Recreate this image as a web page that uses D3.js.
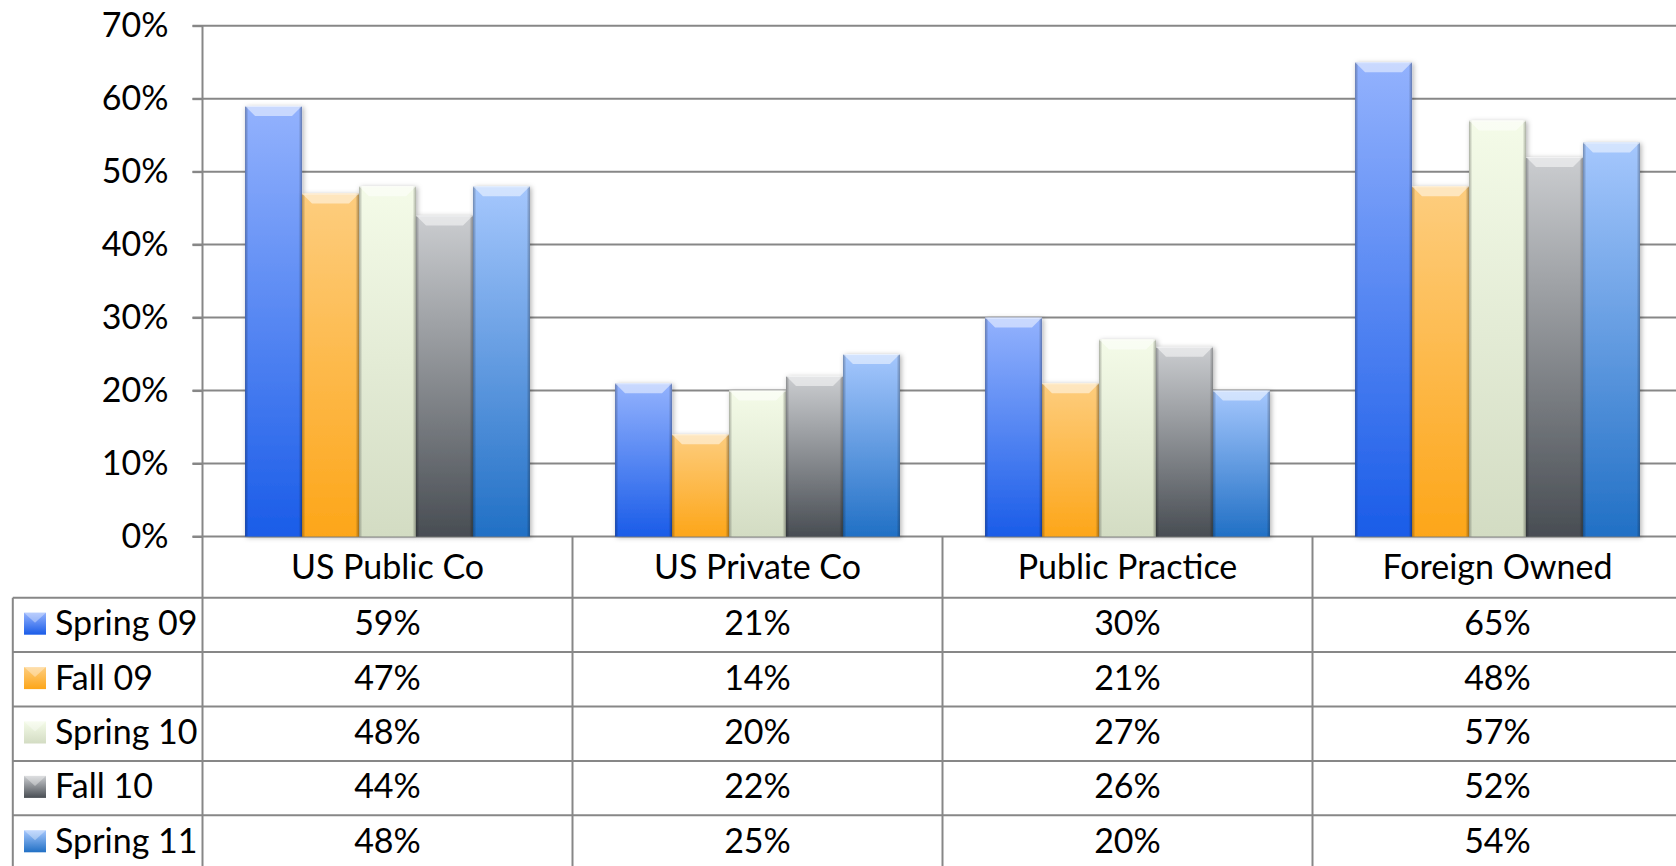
<!DOCTYPE html>
<html>
<head>
<meta charset="utf-8">
<script src="https://cdn.jsdelivr.net/npm/d3@7"></script>
<style>
  html, body { margin: 0; padding: 0; background: #fff; }
  svg { display: block; }
  text { font-family: Lato, "Open Sans", sans-serif; fill: #000; }
</style>
</head>
<body>
<div id="chart"></div>
<script>
// Chart data
const categories = ['US Public Co', 'US Private Co', 'Public Practice', 'Foreign Owned'];
const seriesNames = ['Spring 09', 'Fall 09', 'Spring 10', 'Fall 10', 'Spring 11'];
const spring09 = [0.59, 0.21, 0.30, 0.65];
const fall09 = [0.47, 0.14, 0.21, 0.48];
const spring10 = [0.48, 0.20, 0.27, 0.57];
const fall10 = [0.44, 0.22, 0.26, 0.52];
const spring11 = [0.48, 0.25, 0.20, 0.54];
const seriesValues = [spring09, fall09, spring10, fall10, spring11];
const yTicks = [0, 0.1, 0.2, 0.3, 0.4, 0.5, 0.6, 0.7];

// Gradient colours per series (top, bottom)
const seriesColours = [
    ['#93b2fd', '#1a5ce8'],
    ['#fdcd7e', '#fda619'],
    ['#f4fbe8', '#d3dcc3'],
    ['#cbcdd0', '#484d53'],
    ['#a5c7fd', '#2170c5']
];

// Dimensions
const width = 1676;
const height = 866;
const plotLeft = 202.5;
const catWidth = 370;
const plotTop = 25.7;
const plotBottom = 536.5;
const tableLeft = 12.8;
const headerBottom = 597.7;
const rowHeight = 54.4;
const lineColour = '#878787';
const fontSize = 34;

const svg = d3.select('#chart').append('svg')
    .attr('width', width)
    .attr('height', height);

const defs = svg.append('defs');

// Vertical gradients for each series
seriesColours.forEach((c, i) => {
    const g = defs.append('linearGradient')
        .attr('id', `grad${i}`)
        .attr('x1', '0').attr('y1', '0')
        .attr('x2', '0').attr('y2', '1');
    g.append('stop').attr('offset', '0%').attr('stop-color', c[0]);
    g.append('stop').attr('offset', '100%').attr('stop-color', c[1]);
});

// Side shading for the bevel look
const side = defs.append('linearGradient')
    .attr('id', 'sides')
    .attr('x1', '0').attr('y1', '0')
    .attr('x2', '1').attr('y2', '0');
side.append('stop').attr('offset', '0%').attr('stop-color', '#000').attr('stop-opacity', 0.3);
side.append('stop').attr('offset', '6%').attr('stop-color', '#000').attr('stop-opacity', 0);
side.append('stop').attr('offset', '94%').attr('stop-color', '#000').attr('stop-opacity', 0);
side.append('stop').attr('offset', '100%').attr('stop-color', '#000').attr('stop-opacity', 0.3);

const shadow = defs.append('filter')
    .attr('id', 'shadow')
    .attr('x', '-20%').attr('y', '-10%')
    .attr('width', '140%').attr('height', '120%');
shadow.append('feDropShadow')
    .attr('dx', 1.5).attr('dy', 1)
    .attr('stdDeviation', 2.5)
    .attr('flood-color', '#000')
    .attr('flood-opacity', 0.3);

// Scales
const x0 = d3.scaleBand()
    .domain(categories)
    .range([plotLeft, plotLeft + catWidth * categories.length])
    .paddingInner(0.23)
    .paddingOuter(0.115);

const x1 = d3.scaleBand()
    .domain(seriesNames)
    .range([0, x0.bandwidth()]);

const y = d3.scaleLinear()
    .domain([0, 0.7])
    .range([plotBottom, plotTop]);

const pct = d3.format('.0%');

// Gridlines
svg.append('g')
    .attr('class', 'grid')
    .selectAll('line')
    .data(yTicks)
    .enter()
    .append('line')
    .attr('x1', plotLeft - 10)
    .attr('x2', width)
    .attr('y1', d => y(d))
    .attr('y2', d => y(d))
    .attr('stroke', lineColour)
    .attr('stroke-width', 2);

// Y axis labels
const axisG = svg.append('g')
    .attr('transform', `translate(${plotLeft},0)`)
    .call(d3.axisLeft(y).tickValues(yTicks).tickSize(10).tickPadding(24).tickFormat(pct));
axisG.select('.domain').remove();
axisG.selectAll('.tick line').attr('stroke', lineColour).attr('stroke-width', 2);
axisG.selectAll('.tick text')
    .style('font-family', 'Lato, sans-serif')
    .style('font-size', fontSize + 'px')
    .attr('fill', '#000');

// Bars
const groups = svg.append('g')
    .selectAll('g')
    .data(categories)
    .enter()
    .append('g')
    .attr('transform', d => `translate(${x0(d)},0)`);

const bars = groups.selectAll('g.bar')
    .data((d, ci) => seriesNames.map((s, si) => ({ s, si, v: seriesValues[si][ci] })))
    .enter()
    .append('g')
    .attr('class', 'bar');

bars.append('rect')
    .attr('x', d => x1(d.s))
    .attr('y', d => y(d.v))
    .attr('width', x1.bandwidth())
    .attr('height', d => plotBottom - y(d.v))
    .attr('fill', d => `url(#grad${d.si})`)
    .attr('filter', 'url(#shadow)');

bars.append('rect')
    .attr('x', d => x1(d.s))
    .attr('y', d => y(d.v))
    .attr('width', x1.bandwidth())
    .attr('height', d => plotBottom - y(d.v))
    .attr('fill', 'url(#sides)');

// Top bevel
const bevel = 10;
bars.append('path')
    .attr('d', d => {
        const bx = x1(d.s), by = y(d.v), bw = x1.bandwidth();
        return `M${bx},${by}L${bx + bw},${by}L${bx + bw - bevel},${by + bevel}L${bx + bevel},${by + bevel}Z`;
    })
    .attr('fill', '#fff')
    .attr('fill-opacity', 0.5);

bars.append('line')
    .attr('x1', d => x1(d.s))
    .attr('x2', d => x1(d.s) + x1.bandwidth())
    .attr('y1', d => y(d.v) + 0.5)
    .attr('y2', d => y(d.v) + 0.5)
    .attr('stroke', '#fff')
    .attr('stroke-opacity', 0.5);

// Data table
const table = svg.append('g').attr('class', 'table');
const rowTops = seriesNames.map((s, i) => headerBottom + i * rowHeight);

// horizontal lines
table.selectAll('line.h')
    .data(rowTops)
    .enter()
    .append('line')
    .attr('x1', tableLeft)
    .attr('x2', width)
    .attr('y1', d => d)
    .attr('y2', d => d)
    .attr('stroke', lineColour)
    .attr('stroke-width', 2);

// vertical lines
table.append('line')
    .attr('x1', tableLeft).attr('x2', tableLeft)
    .attr('y1', headerBottom).attr('y2', height)
    .attr('stroke', lineColour).attr('stroke-width', 2);

table.append('line')
    .attr('x1', plotLeft).attr('x2', plotLeft)
    .attr('y1', plotTop).attr('y2', height)
    .attr('stroke', lineColour).attr('stroke-width', 2);

table.selectAll('line.v')
    .data(categories.slice(1))
    .enter()
    .append('line')
    .attr('x1', d => x0(d) - x0.step() * x0.paddingOuter())
    .attr('x2', d => x0(d) - x0.step() * x0.paddingOuter())
    .attr('y1', plotBottom)
    .attr('y2', height)
    .attr('stroke', lineColour)
    .attr('stroke-width', 2);

// Category labels
table.selectAll('text.cat')
    .data(categories)
    .enter()
    .append('text')
    .attr('x', d => x0(d) + x0.bandwidth() / 2)
    .attr('y', plotBottom + 42)
    .attr('text-anchor', 'middle')
    .style('font-size', fontSize + 'px')
    .text(d => d);

// Legend column
const legendRows = table.selectAll('g.leg')
    .data(seriesNames)
    .enter()
    .append('g')
    .attr('transform', (d, i) => `translate(0,${rowTops[i]})`);

legendRows.append('rect')
    .attr('x', 24)
    .attr('y', 15)
    .attr('width', 22)
    .attr('height', 22)
    .attr('fill', (d, i) => `url(#grad${i})`);

legendRows.append('path')
    .attr('d', 'M24,15L46,15L35,25Z')
    .attr('fill', '#fff')
    .attr('fill-opacity', 0.35);

legendRows.append('text')
    .attr('x', 55)
    .attr('y', 37.5)
    .style('font-size', fontSize + 'px')
    .text(d => d);

// Values
seriesValues.forEach((vals, si) => {
    table.selectAll(`text.val${si}`)
        .data(vals)
        .enter()
        .append('text')
        .attr('x', (d, ci) => x0(categories[ci]) + x0.bandwidth() / 2)
        .attr('y', rowTops[si] + 37.5)
        .attr('text-anchor', 'middle')
        .style('font-size', fontSize + 'px')
        .text(d => pct(d));
});
</script>
</body>
</html>
